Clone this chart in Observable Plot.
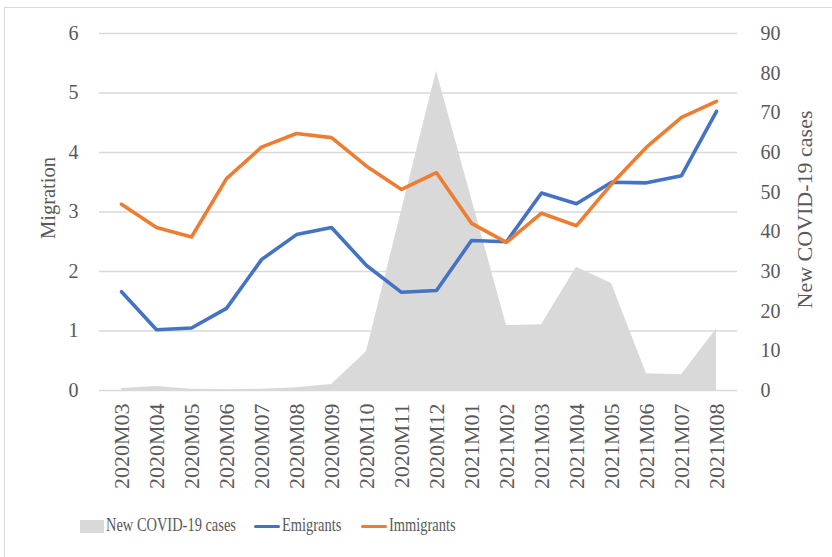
<!DOCTYPE html>
<html><head><meta charset="utf-8">
<script src="https://cdn.jsdelivr.net/npm/d3@7"></script>
<script src="https://cdn.jsdelivr.net/npm/@observablehq/plot@0.6"></script>
<style>
body{margin:0;background:#fff;overflow:hidden}
#wrap{position:relative;width:832px;height:557px;overflow:hidden;font-family:"Liberation Serif",serif;color:#595959;background:#fff}
#border{position:absolute;left:4px;top:7px;width:860px;height:600px;border:1.3px solid #d9d9d9;box-sizing:border-box}
#chart{position:absolute;left:0;top:0}
.lg{position:absolute;top:516px;font-size:19px;line-height:18px;white-space:nowrap;transform:scaleX(0.76);transform-origin:left center}
.sw{position:absolute}
</style>
</head><body>
<div id="wrap">
  <div id="border"></div>
  <div id="chart"></div>
  <div id="legend"></div>
</div>
<script>
const months = ["2020M03","2020M04","2020M05","2020M06","2020M07","2020M08","2020M09","2020M10","2020M11","2020M12",
                "2021M01","2021M02","2021M03","2021M04","2021M05","2021M06","2021M07","2021M08"];
const emigrants  = [1.66,1.02,1.05,1.38,2.20,2.62,2.74,2.10,1.65,1.68,2.52,2.50,3.32,3.14,3.50,3.49,3.61,4.69];
const immigrants = [3.13,2.74,2.58,3.56,4.09,4.32,4.25,3.77,3.38,3.66,2.81,2.49,2.98,2.77,3.47,4.09,4.59,4.86];
const covidCases = [0.5,1.0,0.3,0.2,0.3,0.7,1.5,9.8,45.2,80.5,48.4,16.4,16.6,31.1,27.0,4.2,3.95,15.5];
const leftTicks  = [0,1,2,3,4,5,6];
const rightTicks = [0,10,20,30,40,50,60,70,80,90];
const seriesNames = ["New COVID-19 cases","Emigrants","Immigrants"];
const seriesColors = ["#d9d9d9","#4472c4","#ed7d31"];
const leftTitle = "Migration";
const rightTitle = "New COVID-19 cases";

const RATIO = 90 / 6; // right axis units per left axis unit

const rows = months.map((m, i) => ({month: m, emigrants: emigrants[i], immigrants: immigrants[i], cases: covidCases[i]}));

const chart = Plot.plot({
  width: 832, height: 505,
  marginLeft: 99, marginRight: 95, marginTop: 33, marginBottom: 115,
  style: {fontFamily: "Liberation Serif, serif", color: "#595959", background: "transparent", overflow: "visible"},
  x: {type: "point", domain: months, padding: 0.5},
  y: {domain: [0, 6]},
  marks: [
    Plot.gridY(leftTicks, {stroke: "#d9d9d9", strokeOpacity: 1, strokeWidth: 1.3}),
    Plot.areaY(rows, {x: "month", y: d => d.cases / RATIO, fill: seriesColors[0]}),
    Plot.lineY(rows, {x: "month", y: "emigrants", stroke: seriesColors[1], strokeWidth: 3.6, strokeLinecap: "round", strokeLinejoin: "round"}),
    Plot.lineY(rows, {x: "month", y: "immigrants", stroke: seriesColors[2], strokeWidth: 3.6, strokeLinecap: "round", strokeLinejoin: "round"}),
    Plot.axisY(leftTicks, {anchor: "left", tickSize: 0, tickPadding: 21, fontSize: 20, label: null, tickFormat: d => String(d)}),
    Plot.axisY(rightTicks.map(v => v / RATIO), {anchor: "right", tickSize: 0, tickPadding: 23, fontSize: 20, label: null,
      tickFormat: d => String(Math.round(d * RATIO))}),
    Plot.axisX({tickSize: 0, tickPadding: 13, tickRotate: -90, fontSize: 22, label: null}),
    Plot.text([leftTitle], {text: d => d, frameAnchor: "left", textAnchor: "middle", dx: -51, dy: -14, rotate: -90, fontSize: 20.5}),
    Plot.text([rightTitle], {text: d => d, frameAnchor: "right", textAnchor: "middle", dx: 67, dy: -2.5, rotate: -90, fontSize: 22})
  ]
});
document.getElementById("chart").appendChild(chart);

// legend
const legend = document.getElementById("legend");
const items = [
  {kind: "rect", sx: 80, tx: 106},
  {kind: "line", sx: 254, tx: 282},
  {kind: "line", sx: 361, tx: 389}
];
items.forEach((it, i) => {
  const sw = document.createElement("div");
  sw.className = "sw";
  if (it.kind === "rect") {
    Object.assign(sw.style, {left: it.sx + "px", top: "520px", width: "24px", height: "13px", background: seriesColors[i]});
  } else {
    Object.assign(sw.style, {left: it.sx + "px", top: "524.5px", width: "26px", height: "3.6px", background: seriesColors[i], borderRadius: "2px"});
  }
  legend.appendChild(sw);
  const t = document.createElement("div");
  t.className = "lg";
  t.style.left = it.tx + "px";
  t.textContent = seriesNames[i];
  legend.appendChild(t);
});
</script>
</body></html>
